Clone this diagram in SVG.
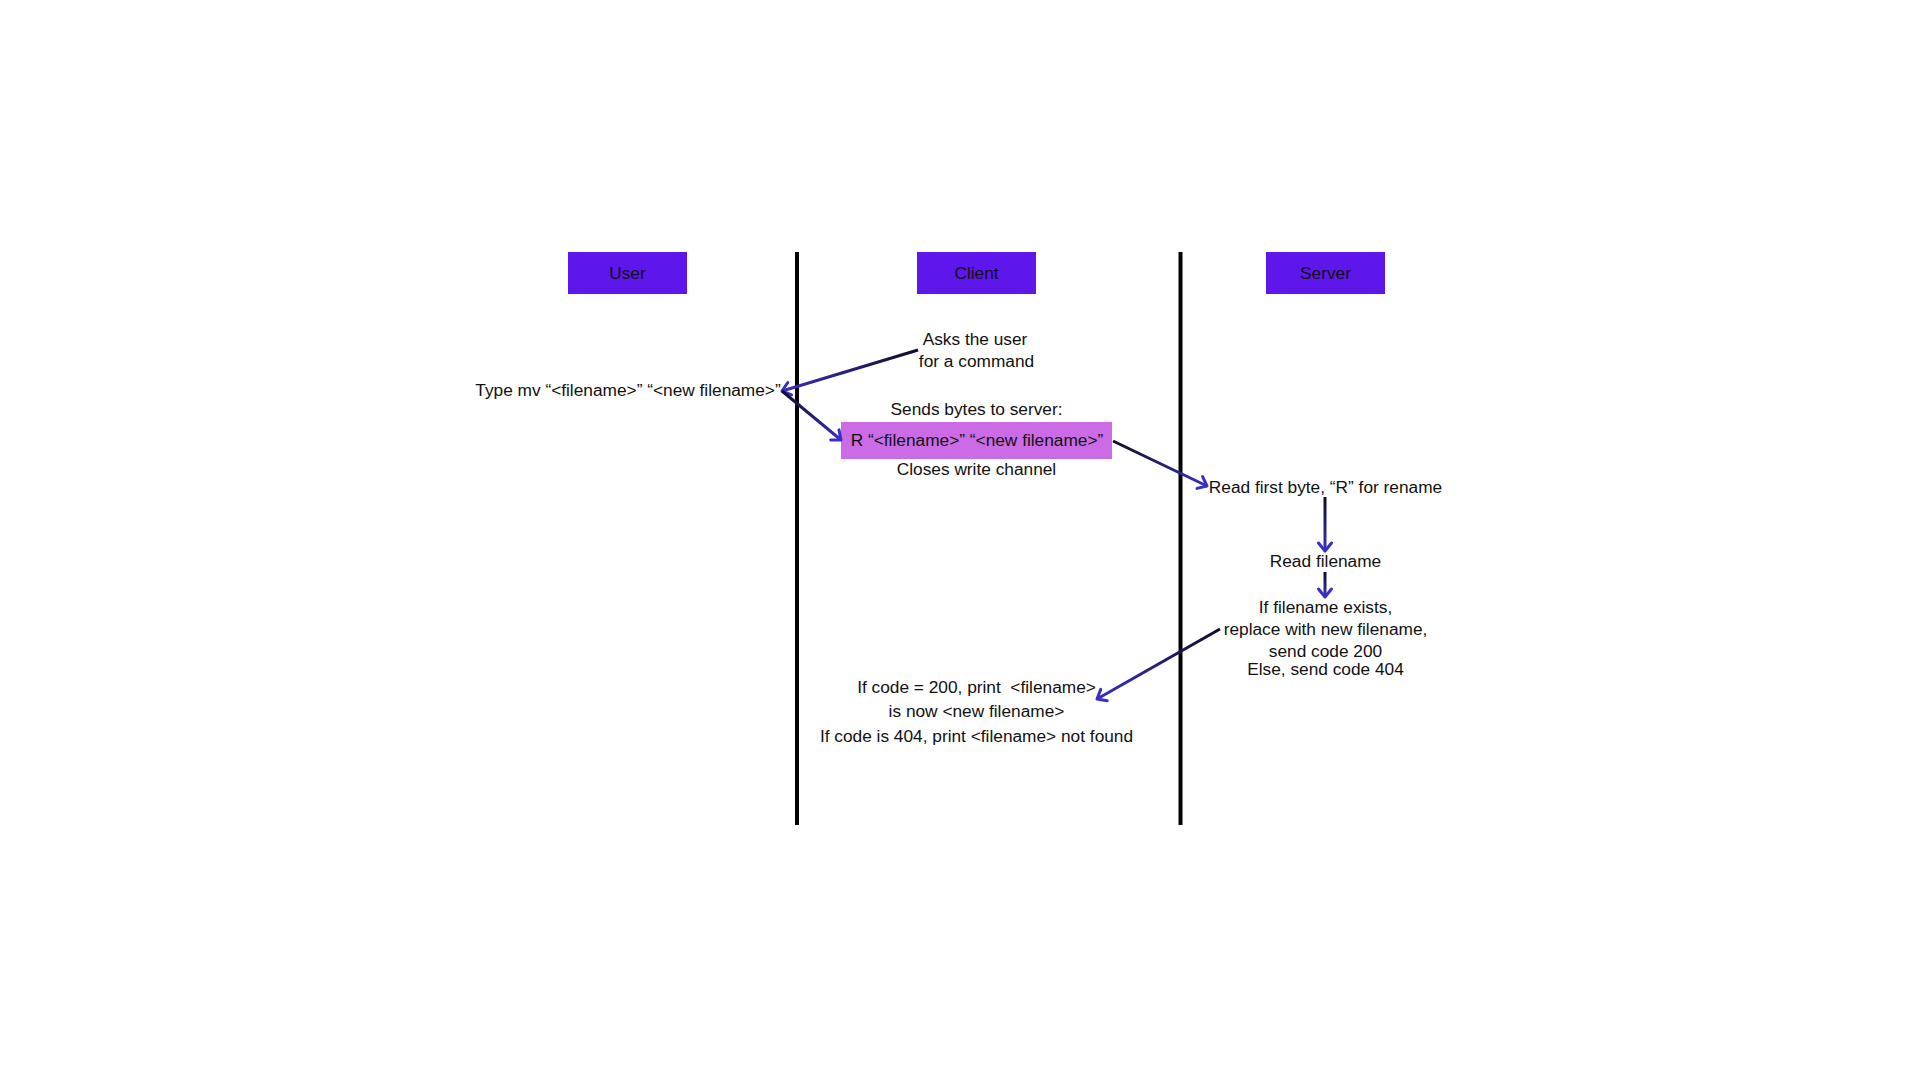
<svg xmlns="http://www.w3.org/2000/svg" width="1920" height="1080" viewBox="0 0 1920 1080">
<style>
text{font-family:"Liberation Sans",Arial,sans-serif;font-size:17.3px;fill:#111;text-anchor:middle}
.hdr{fill:#5e17eb}
.lane{stroke:#000;stroke-width:4}
.conn{fill:none;stroke-width:3}
</style>
<defs>
<marker id="ah" markerUnits="userSpaceOnUse" markerWidth="14" markerHeight="16" refX="10" refY="7" orient="auto" overflow="visible">
<path d="M2,0.5 L10,7 L2,13.5" fill="none" stroke="#3a2fc4" stroke-width="3" stroke-linecap="round" stroke-linejoin="round"/>
</marker>
<linearGradient id="g1" gradientUnits="userSpaceOnUse" x1="918" y1="350" x2="782" y2="391"><stop offset="0" stop-color="#0d0d24"/><stop offset="1" stop-color="#3a2fc4"/></linearGradient>
<linearGradient id="g2" gradientUnits="userSpaceOnUse" x1="782" y1="391" x2="841" y2="440"><stop offset="0" stop-color="#0d0d24"/><stop offset="1" stop-color="#3a2fc4"/></linearGradient>
<linearGradient id="g3" gradientUnits="userSpaceOnUse" x1="1113" y1="441" x2="1207" y2="486"><stop offset="0" stop-color="#0d0d24"/><stop offset="1" stop-color="#3a2fc4"/></linearGradient>
<linearGradient id="g4" gradientUnits="userSpaceOnUse" x1="1325" y1="497" x2="1325" y2="551"><stop offset="0" stop-color="#0d0d24"/><stop offset="1" stop-color="#3a2fc4"/></linearGradient>
<linearGradient id="g5" gradientUnits="userSpaceOnUse" x1="1325" y1="572" x2="1325" y2="597"><stop offset="0" stop-color="#0d0d24"/><stop offset="1" stop-color="#3a2fc4"/></linearGradient>
<linearGradient id="g6" gradientUnits="userSpaceOnUse" x1="1220" y1="629" x2="1097" y2="699"><stop offset="0" stop-color="#0d0d24"/><stop offset="1" stop-color="#3a2fc4"/></linearGradient>
</defs>
<rect width="1920" height="1080" fill="#fff"/>
<g id="lanes">
<line class="lane" x1="797" y1="252" x2="797" y2="825"/>
<line class="lane" x1="1180.5" y1="252" x2="1180.5" y2="825"/>
</g>
<g id="user">
<rect class="hdr" x="568" y="252" width="119" height="42"/>
<text x="627.5" y="279">User</text>
</g>
<g id="client">
<rect class="hdr" x="917" y="252" width="119" height="42"/>
<text x="976.5" y="279">Client</text>
</g>
<g id="server">
<rect class="hdr" x="1266" y="252" width="119" height="42"/>
<text x="1325.5" y="279">Server</text>
</g>
<g id="ask">
<text x="975" y="345">Asks the user</text>
<text x="976.5" y="367">for a command</text>
</g>
<g id="type">
<text x="628" y="396">Type mv “&lt;filename&gt;” “&lt;new filename&gt;”</text>
</g>
<g id="send">
<text x="976.5" y="415">Sends bytes to server:</text>
<rect x="841" y="422" width="271" height="37" fill="#cb6ce6"/>
<text x="977" y="446">R “&lt;filename&gt;” “&lt;new filename&gt;”</text>
<text x="976.5" y="475">Closes write channel</text>
</g>
<g id="readbyte">
<text x="1325.5" y="493">Read first byte, “R” for rename</text>
</g>
<g id="readname">
<text x="1325.5" y="567">Read filename</text>
</g>
<g id="check">
<text x="1325.5" y="613">If filename exists,</text>
<text x="1325.5" y="635">replace with new filename,</text>
<text x="1325.5" y="657">send code 200</text>
<text x="1325.5" y="675">Else, send code 404</text>
</g>
<g id="result">
<text x="976.5" y="693" xml:space="preserve" style="white-space:pre">If code = 200, print  &lt;filename&gt;</text>
<text x="976.5" y="717">is now &lt;new filename&gt;</text>
<text x="976.5" y="742">If code is 404, print &lt;filename&gt; not found</text>
</g>
<g id="connectors">
<line class="conn" x1="918" y1="350" x2="782" y2="391" stroke="url(#g1)" marker-end="url(#ah)"/>
<line class="conn" x1="782" y1="391" x2="841" y2="440" stroke="url(#g2)" marker-end="url(#ah)"/>
<line class="conn" x1="1113" y1="441" x2="1207" y2="486" stroke="url(#g3)" marker-end="url(#ah)"/>
<line class="conn" x1="1325" y1="497" x2="1325" y2="551" stroke="url(#g4)" marker-end="url(#ah)"/>
<line class="conn" x1="1325" y1="572" x2="1325" y2="597" stroke="url(#g5)" marker-end="url(#ah)"/>
<line class="conn" x1="1220" y1="629" x2="1097" y2="699" stroke="url(#g6)" marker-end="url(#ah)"/>
</g>
</svg>
